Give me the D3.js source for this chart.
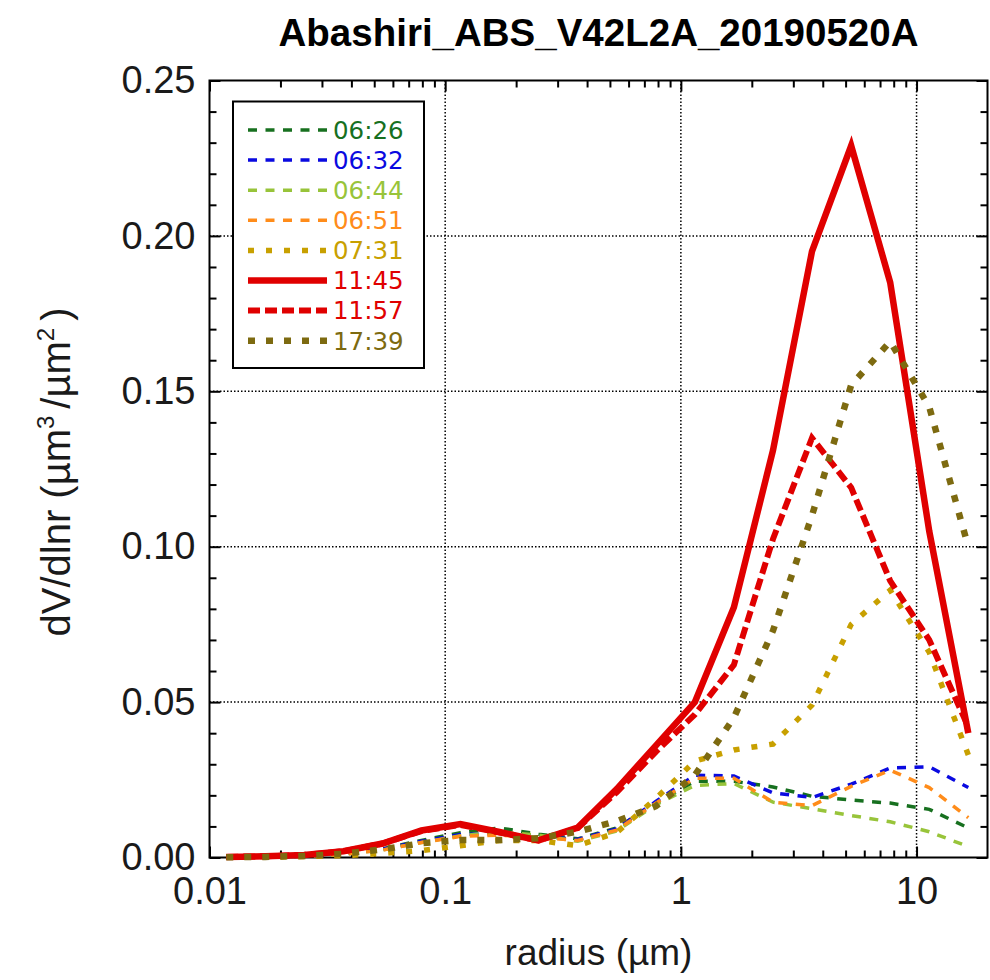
<!DOCTYPE html>
<html>
<head>
<meta charset="utf-8">
<script src="https://cdn.jsdelivr.net/npm/d3@7"></script>
<style>
  body { margin: 0; background: #fff; }
  svg text { font-family: "Liberation Sans", Arial, Helvetica, sans-serif; }
</style>
</head>
<body>
<div id="chart"></div>
<script>
// size-distribution bins (radius, um)
const radius = [0.01178, 0.01725, 0.0252, 0.0370, 0.0542, 0.0793, 0.1161, 0.1701, 0.249, 0.365,
                0.534, 0.783, 1.147, 1.679, 2.46, 3.60, 5.28, 7.73, 11.32, 16.58];

const times = ["06:26", "06:32", "06:44", "06:51", "07:31", "11:45", "11:57", "17:39"];

// dV/dlnr for each retrieval time
const v0626 = [0.0001, 0.0002, 0.0005, 0.0012, 0.0028, 0.0055, 0.0080, 0.0095, 0.0075, 0.0060,
               0.0095, 0.0175, 0.0245, 0.0245, 0.0227, 0.0197, 0.0185, 0.0175, 0.0155, 0.0095];
const v0632 = [0.0001, 0.0002, 0.0005, 0.0012, 0.0027, 0.0052, 0.0074, 0.0078, 0.0068, 0.0058,
               0.0092, 0.0180, 0.0265, 0.0262, 0.0208, 0.0193, 0.0236, 0.0288, 0.0292, 0.0225];
const v0644 = [0.0001, 0.0002, 0.0004, 0.0010, 0.0024, 0.0048, 0.0070, 0.0082, 0.0072, 0.0052,
               0.0085, 0.0170, 0.0232, 0.0238, 0.0178, 0.0157, 0.0135, 0.0115, 0.0083, 0.0035];
const v0651 = [0.0001, 0.0002, 0.0004, 0.0010, 0.0024, 0.0048, 0.0068, 0.0072, 0.0065, 0.0055,
               0.0088, 0.0175, 0.0255, 0.0255, 0.0178, 0.0167, 0.0229, 0.0281, 0.0225, 0.0128];
const v0731 = [0.0001, 0.0001, 0.0003, 0.0006, 0.0013, 0.0022, 0.0038, 0.0055, 0.0055, 0.0038,
               0.0080, 0.0190, 0.0310, 0.0346, 0.0365, 0.0490, 0.0750, 0.0860, 0.0660, 0.0330];
const v1145 = [0.0002, 0.0004, 0.0008, 0.0020, 0.0045, 0.0087, 0.0108, 0.0082, 0.0055, 0.0096,
               0.0220, 0.0360, 0.0500, 0.0805, 0.1310, 0.1950, 0.2290, 0.1850, 0.1050, 0.0400];
const v1157 = [0.0002, 0.0004, 0.0008, 0.0020, 0.0045, 0.0085, 0.0105, 0.0080, 0.0055, 0.0095,
               0.0210, 0.0340, 0.0460, 0.0620, 0.1025, 0.1350, 0.1190, 0.0890, 0.0700, 0.0420];
const v1739 = [0.0001, 0.0002, 0.0005, 0.0012, 0.0026, 0.0046, 0.0056, 0.0056, 0.0062, 0.0083,
               0.0117, 0.0165, 0.0265, 0.0450, 0.0730, 0.1100, 0.1520, 0.1660, 0.1450, 0.1000];

const xTicks = [0.01, 0.1, 1, 10];
const yTicks = [0, 0.05, 0.10, 0.15, 0.20, 0.25];

// line styles per series (colour, width, dash)
const series = [
  { label: times[0], values: v0626, color: "#17701f", width: 3.5, dash: "9,8.5" },
  { label: times[1], values: v0632, color: "#0a0ae0", width: 3.5, dash: "9,8.5" },
  { label: times[2], values: v0644, color: "#98c43a", width: 3.5, dash: "9,8.5" },
  { label: times[3], values: v0651, color: "#ff8c1a", width: 3.5, dash: "9,8.5" },
  { label: times[4], values: v0731, color: "#c8a000", width: 5.5, dash: "6,12" },
  { label: times[5], values: v1145, color: "#e00000", width: 6.5, dash: null },
  { label: times[6], values: v1157, color: "#e00000", width: 6, dash: "12,5" },
  { label: times[7], values: v1739, color: "#7d6a10", width: 6.5, dash: "7,11" }
];

const width = 990, height = 980;
const plotLeft = 209.5, plotTop = 80.5, plotRight = 987.5, plotBottom = 857.5;

const svg = d3.select("#chart").append("svg")
  .attr("width", width)
  .attr("height", height);

const x = d3.scaleLog().domain([0.01, 20]).range([plotLeft, plotRight]);
const y = d3.scaleLinear().domain([0, 0.25]).range([plotBottom, plotTop]);

// dotted grid
const grid = svg.append("g")
  .attr("stroke", "#000")
  .attr("stroke-width", 1.5)
  .attr("stroke-dasharray", "1.5,2");
grid.selectAll(".gx").data(xTicks.slice(1)).enter().append("line")
  .attr("x1", d => x(d)).attr("x2", d => x(d))
  .attr("y1", plotTop).attr("y2", plotBottom);
grid.selectAll(".gy").data(yTicks.slice(1, -1)).enter().append("line")
  .attr("x1", plotLeft).attr("x2", plotRight)
  .attr("y1", d => y(d)).attr("y2", d => y(d));

// minor tick positions
const xMinor = x.ticks().filter(t => !xTicks.includes(t) && t < 20);
const yMinor = d3.range(0, 0.2501, 0.01).filter(t => Math.abs(t / 0.05 - Math.round(t / 0.05)) > 1e-6);

function styleAxis(g) {
  g.select(".domain").remove();
  g.selectAll("line").attr("stroke", "#000").attr("stroke-width", 2);
  g.selectAll("text").attr("fill", "#1a1a1a").attr("font-size", 38);
}

// bottom axis with labels
svg.append("g")
  .attr("transform", `translate(0,${plotBottom})`)
  .call(d3.axisBottom(x).tickValues(xTicks).tickFormat(d3.format("~g"))
    .tickSizeInner(-11).tickSizeOuter(0).tickPadding(20))
  .call(styleAxis);
svg.append("g")
  .attr("transform", `translate(0,${plotBottom})`)
  .call(d3.axisBottom(x).tickValues(xMinor).tickFormat("").tickSizeInner(-7).tickSizeOuter(0))
  .call(styleAxis);
// top axis, ticks only
svg.append("g")
  .attr("transform", `translate(0,${plotTop})`)
  .call(d3.axisTop(x).tickValues(xTicks).tickFormat("").tickSizeInner(-11).tickSizeOuter(0))
  .call(styleAxis);
svg.append("g")
  .attr("transform", `translate(0,${plotTop})`)
  .call(d3.axisTop(x).tickValues(xMinor).tickFormat("").tickSizeInner(-7).tickSizeOuter(0))
  .call(styleAxis);

// left axis with labels
svg.append("g")
  .attr("transform", `translate(${plotLeft},0)`)
  .call(d3.axisLeft(y).tickValues(yTicks).tickFormat(d3.format(".2f"))
    .tickSizeInner(-11).tickSizeOuter(0).tickPadding(14))
  .call(styleAxis);
svg.append("g")
  .attr("transform", `translate(${plotLeft},0)`)
  .call(d3.axisLeft(y).tickValues(yMinor).tickFormat("").tickSizeInner(-7).tickSizeOuter(0))
  .call(styleAxis);
// right axis, ticks only
svg.append("g")
  .attr("transform", `translate(${plotRight},0)`)
  .call(d3.axisRight(y).tickValues(yTicks).tickFormat("").tickSizeInner(-11).tickSizeOuter(0))
  .call(styleAxis);
svg.append("g")
  .attr("transform", `translate(${plotRight},0)`)
  .call(d3.axisRight(y).tickValues(yMinor).tickFormat("").tickSizeInner(-7).tickSizeOuter(0))
  .call(styleAxis);

// plot frame
svg.append("rect")
  .attr("x", plotLeft).attr("y", plotTop)
  .attr("width", plotRight - plotLeft).attr("height", plotBottom - plotTop)
  .attr("fill", "none").attr("stroke", "#000").attr("stroke-width", 2);

// the curves
const line = d3.line()
  .x((d, i) => x(radius[i]))
  .y(d => y(d));

svg.append("g").selectAll("path")
  .data(series)
  .enter().append("path")
  .attr("d", d => line(d.values))
  .attr("fill", "none")
  .attr("stroke", d => d.color)
  .attr("stroke-width", d => d.width)
  .attr("stroke-dasharray", d => d.dash)
  .attr("stroke-linejoin", "miter")
  .attr("stroke-linecap", "butt");

// legend box
const legend = svg.append("g");
legend.append("rect")
  .attr("x", 233).attr("y", 101.5)
  .attr("width", 191).attr("height", 266.5)
  .attr("fill", "#fff").attr("stroke", "#000").attr("stroke-width", 2);

const item = legend.selectAll(".item")
  .data(series)
  .enter().append("g")
  .attr("transform", (d, i) => `translate(248,${130 + i * 30.1})`);
item.append("line")
  .attr("x1", 0).attr("x2", 79)
  .attr("stroke", d => d.color)
  .attr("stroke-width", d => d.width)
  .attr("stroke-dasharray", d => d.dash);
item.append("text")
  .attr("x", 85).attr("dy", "0.36em")
  .style("font-family", "'DejaVu Sans', Verdana, sans-serif")
  .attr("font-size", 24.5)
  .attr("fill", d => d.color)
  .text(d => d.label);

// title
svg.append("text")
  .attr("x", (plotLeft + plotRight) / 2).attr("y", 46)
  .attr("text-anchor", "middle")
  .attr("font-size", 38.5).attr("font-weight", "bold")
  .text("Abashiri_ABS_V42L2A_20190520A");

// axis titles
svg.append("text")
  .attr("x", (plotLeft + plotRight) / 2).attr("y", 965)
  .attr("text-anchor", "middle")
  .attr("font-size", 37)
  .attr("fill", "#1a1a1a")
  .text("radius (µm)");

const yt = svg.append("text")
  .attr("transform", `translate(70,${(plotTop + plotBottom) / 2 + 3}) rotate(-90)`)
  .attr("text-anchor", "middle")
  .attr("font-size", 40)
  .attr("fill", "#1a1a1a");
yt.append("tspan").text("dV/dlnr (µm");
yt.append("tspan").attr("dy", -16).attr("font-size", 24).text("3");
yt.append("tspan").attr("dy", 16).attr("dx", 7).text("/µm");
yt.append("tspan").attr("dy", -16).attr("font-size", 24).text("2");
yt.append("tspan").attr("dy", 16).attr("dx", 7).text(")");
</script>
</body>
</html>
